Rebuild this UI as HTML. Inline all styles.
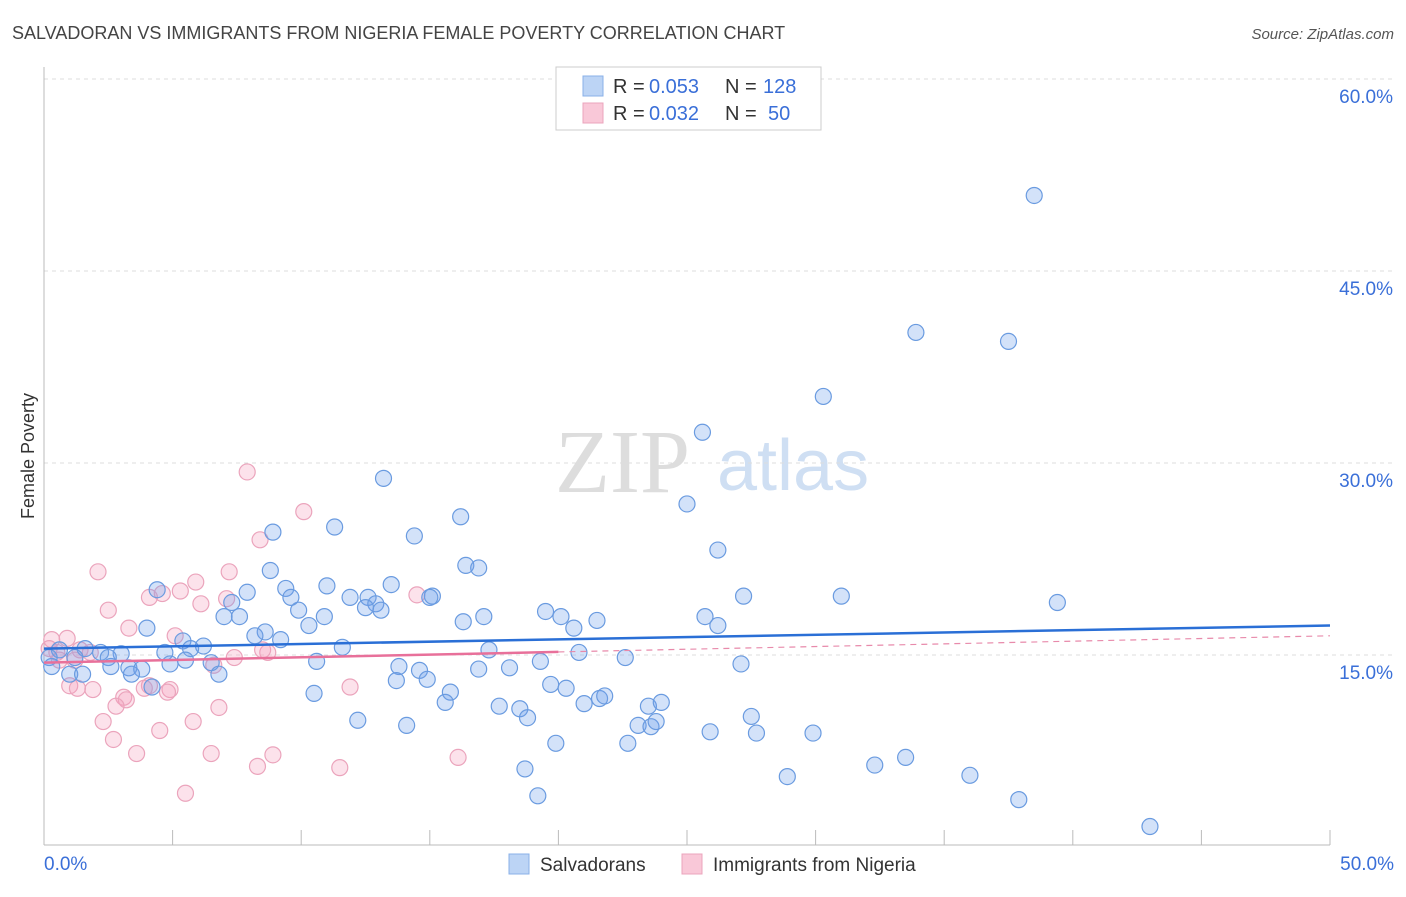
<!DOCTYPE html>
<html><head><meta charset="utf-8"><style>
body{margin:0;background:#fff;font-family:"Liberation Sans",sans-serif;}
</style></head><body>
<svg id="chart" width="1406" height="892" xmlns="http://www.w3.org/2000/svg" font-family="Liberation Sans, sans-serif">
<text x="12" y="39" font-size="18" fill="#444">SALVADORAN VS IMMIGRANTS FROM NIGERIA FEMALE POVERTY CORRELATION CHART</text>
<text x="1394" y="39" font-size="15" fill="#555" text-anchor="end" font-style="italic">Source: ZipAtlas.com</text>
<g><text x="555" y="492" font-size="90" fill="#ddd" font-family="Liberation Serif, serif">ZIP</text><text x="717" y="490" font-size="72" fill="#cfdff3">atlas</text></g>
<text transform="translate(34,456) rotate(-90)" font-size="18" fill="#333" text-anchor="middle">Female Poverty</text>
<g id="grid"></g><g id="pts"></g><g id="trend"></g>
<g>
<rect x="556" y="67" width="265" height="63" fill="#fff" stroke="#ccc"/>
<rect x="583" y="76" width="20" height="20" fill="#bcd4f5" stroke="#8ab0e8"/>
<rect x="583" y="103" width="20" height="20" fill="#f9c8d8" stroke="#eba4bc"/>
<text x="613" y="93" font-size="20" fill="#333">R =</text>
<text x="649" y="93" font-size="20" fill="#3a6fd8">0.053</text>
<text x="725" y="93" font-size="20" fill="#333">N =</text>
<text x="763" y="93" font-size="20" fill="#3a6fd8">128</text>
<text x="613" y="120" font-size="20" fill="#333">R =</text>
<text x="649" y="120" font-size="20" fill="#3a6fd8">0.032</text>
<text x="725" y="120" font-size="20" fill="#333">N =</text>
<text x="768" y="120" font-size="20" fill="#3a6fd8">50</text>
</g>
<g>
<rect x="509" y="854" width="20" height="20" fill="#bcd4f5" stroke="#8ab0e8"/>
<text x="540" y="871" font-size="19" fill="#333">Salvadorans</text>
<rect x="682" y="854" width="20" height="20" fill="#f9c8d8" stroke="#eba4bc"/>
<text x="713" y="871" font-size="19" fill="#333">Immigrants from Nigeria</text>
</g>
</svg>
<script>
const yTicks=[15,30,45,60];
const yTickLabels=["15.0%","30.0%","45.0%","60.0%"];
const xTicks=[0,5,10,15,20,25,30,35,40,45,50];
const blueX=[38.5,33.9,37.5,30.3,25.6,13.2,25.0,16.2,11.3,8.9,14.4,26.2,16.4,16.9,8.8,4.4,13.5,11.0,9.4,7.9,11.9,12.6,12.9,9.6,15.1,15.0,27.2,31.0,39.4,9.9,12.5,13.1,19.5,20.1,17.1,21.5,25.7,7.3,7.0,7.6,16.3,10.9,10.3,4.0,20.6,26.2,8.6,8.2,9.2,5.4,6.2,5.7,4.7,11.6,17.3,20.8,22.6,2.2,3.0,1.6,2.5,0.6,1.2,0.2,0.3,2.6,3.3,3.8,4.9,5.5,6.5,6.8,3.4,1.0,1.5,10.6,13.8,14.6,16.9,18.1,19.3,27.1,13.7,14.9,19.7,20.3,15.8,10.5,15.6,17.7,18.5,21.0,21.6,21.8,23.5,24.0,4.2,18.8,12.2,14.1,23.1,23.6,23.8,27.5,25.9,27.7,29.9,19.9,22.7,18.7,28.9,32.3,33.5,36.0,19.2,37.9,43.0];
const blueY=[50.9,40.2,39.5,35.2,32.4,28.8,26.8,25.8,25.0,24.6,24.3,23.2,22.0,21.8,21.6,20.1,20.5,20.4,20.2,19.9,19.5,19.5,19.0,19.5,19.6,19.5,19.6,19.6,19.1,18.5,18.7,18.5,18.4,18.0,18.0,17.7,18.0,19.1,18.0,18.0,17.6,18.0,17.3,17.1,17.1,17.3,16.8,16.5,16.2,16.1,15.7,15.5,15.2,15.6,15.4,15.2,14.8,15.2,15.1,15.5,14.8,15.4,14.8,14.8,14.1,14.1,14.0,13.9,14.3,14.6,14.4,13.5,13.5,13.5,13.5,14.5,14.1,13.8,13.9,14.0,14.5,14.3,13.0,13.1,12.7,12.4,12.1,12.0,11.3,11.0,10.8,11.2,11.6,11.8,11.0,11.3,12.5,10.1,9.9,9.5,9.5,9.4,9.8,10.2,9.0,8.9,8.9,8.1,8.1,6.1,5.5,6.4,7.0,5.6,4.0,3.7,1.6];
const pinkX=[7.9,10.1,8.4,2.1,7.2,5.9,5.3,4.1,4.6,6.1,7.1,2.5,14.5,3.3,5.1,0.3,0.9,0.2,0.5,1.4,1.8,7.4,8.7,8.5,6.6,1.2,1.0,1.9,1.3,3.1,4.1,4.9,4.8,3.2,2.8,6.8,2.3,5.8,4.5,2.7,3.6,6.5,8.9,8.3,11.5,16.1,5.5,11.9,3.9,0.6];
const pinkY=[29.3,26.2,24.0,21.5,21.5,20.7,20.0,19.5,19.8,19.0,19.4,18.5,19.7,17.1,16.5,16.2,16.3,15.5,15.2,15.4,15.2,14.8,15.2,15.4,14.2,14.6,12.6,12.3,12.4,11.7,12.6,12.3,12.1,11.5,11.0,10.9,9.8,9.8,9.1,8.4,7.3,7.3,7.2,6.3,6.2,7.0,4.2,12.5,12.4,14.6];
const blueTrend=[15.5,17.3];
const pinkTrend=[14.4,16.5];
const pinkSolidEnd=20;
const NS="http://www.w3.org/2000/svg";
const sx=v=>44+v*25.72, sy=v=>847-v*12.8;
function mk(t,a,p){const e=document.createElementNS(NS,t);for(const k in a)e.setAttribute(k,a[k]);p.appendChild(e);return e;}
const grid=document.getElementById('grid');
yTicks.forEach((t,i)=>{
 const l=mk('line',{x1:44,x2:1394,y1:sy(t),y2:sy(t),stroke:'#ddd','stroke-dasharray':'4,4'},grid);
 
 
 const tx=mk('text',{x:1393,y:sy(t)+24,'font-size':19,fill:'#3a6fd8','text-anchor':'end'},grid);
 tx.textContent=yTickLabels[i];
 
 
});
const ax=mk('line',{x1:44,x2:1330,y1:845,y2:845,stroke:'#bbb'},grid);


const ay=mk('line',{x1:44,x2:44,y1:67,y2:845,stroke:'#bbb'},grid);


xTicks.forEach(t=>{const l=mk('line',{x1:sx(t),x2:sx(t),y1:830,y2:845,stroke:'#bbb'},grid);
 
 });
[[0,'0.0%','start',44],[50,'50.0%','end',1394]].forEach(d=>{const tx=mk('text',{x:d[3],y:870,'font-size':19,fill:'#3a6fd8','text-anchor':d[2]},grid);tx.textContent=d[1];
 
 });
const pts=document.getElementById('pts');
pinkX.forEach((x,i)=>{const c=mk('circle',{cx:sx(x),cy:sy(pinkY[i]),r:8,fill:'rgba(244,160,190,0.3)',stroke:'#eba4bc','stroke-width':1.2},pts);
 
 });
blueX.forEach((x,i)=>{const c=mk('circle',{cx:sx(x),cy:sy(blueY[i]),r:8,fill:'rgba(110,160,235,0.3)',stroke:'#6a9be0','stroke-width':1.2},pts);
 
 });
const tr=document.getElementById('trend');
const pi=x=>pinkTrend[0]+(pinkTrend[1]-pinkTrend[0])*x/50;
const pd=mk('line',{x1:sx(pinkSolidEnd),y1:sy(pi(pinkSolidEnd)),x2:sx(50),y2:sy(pi(50)),stroke:'#e88aab','stroke-width':1.2,'stroke-dasharray':'6,5'},tr);


const ps=mk('line',{x1:sx(0),y1:sy(pi(0)),x2:sx(pinkSolidEnd),y2:sy(pi(pinkSolidEnd)),stroke:'#e8709a','stroke-width':2.5},tr);


const bl=mk('line',{x1:sx(0),y1:sy(blueTrend[0]),x2:sx(50),y2:sy(blueTrend[1]),stroke:'#2a6fd6','stroke-width':2.5},tr);


</script>
</body></html>
